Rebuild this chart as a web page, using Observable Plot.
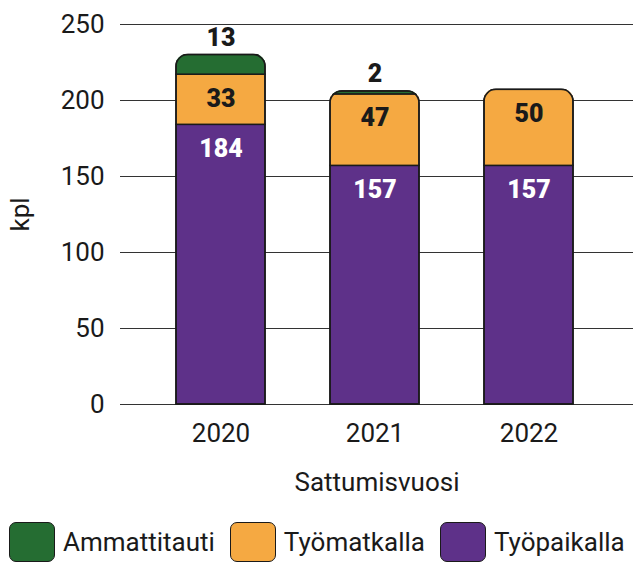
<!DOCTYPE html>
<html><head><meta charset="utf-8">
<script src="https://cdn.jsdelivr.net/npm/d3@7"></script>
<script src="https://cdn.jsdelivr.net/npm/@observablehq/plot@0.6"></script>
<style>
body{margin:0;background:#fff;font-family:Roboto,sans-serif;}
#legend{display:flex;align-items:center;margin-top:22px;margin-left:9px;font-size:26px;color:#1a1a1a;font-family:Roboto,sans-serif}
.sw{width:46px;height:40px;border:1.5px solid #1a1a1a;border-radius:7px;box-sizing:border-box;margin-right:8px}
.item{display:flex;align-items:center;margin-right:15px}
</style></head><body><div id="chart"></div><div id="legend"></div><script>
const years = ["2020","2021","2022"];
const tyopaikalla = [184,157,157];
const tyomatkalla = [33,47,50];
const ammattitauti = [13,2,0];
const seriesNames = ["Ammattitauti","Työmatkalla","Työpaikalla"];
const seriesColors = ["#256d32","#f5a942","#5e3189"];
const stackOrder = ["Työpaikalla","Työmatkalla","Ammattitauti"];
const yTicks = [0,50,100,150,200,250];

const rows = years.flatMap((year,i)=>[
  {year, series:"Työpaikalla", value: tyopaikalla[i]},
  {year, series:"Työmatkalla", value: tyomatkalla[i]},
  {year, series:"Ammattitauti", value: ammattitauti[i]}
]);

function roundTops(index, scales, values, dimensions, context, next) {
  const g = next(index, scales, values, dimensions, context);
  const ns = "http://www.w3.org/2000/svg";
  const bars = new Map();
  g.querySelectorAll("rect").forEach(r => {
    const x = +r.getAttribute("x"), w = +r.getAttribute("width"), y = +r.getAttribute("y"), h = +r.getAttribute("height");
    const k = Math.round(x);
    const b = bars.get(k) || {x, w, top: Infinity, bottom: -Infinity};
    b.top = Math.min(b.top, y); b.bottom = Math.max(b.bottom, y + h);
    bars.set(k, b);
  });
  const R = 12;
  const shape = (x, y0, y1, w, r) => `M${x},${y1}V${y0+r}A${r},${r} 0 0 1 ${x+r},${y0}H${x+w-r}A${r},${r} 0 0 1 ${x+w},${y0+r}V${y1}Z`;
  const wrap = document.createElementNS(ns, "g");
  const defs = document.createElementNS(ns, "defs");
  const cp = document.createElementNS(ns, "clipPath");
  cp.setAttribute("id", "rt-clip");
  const outl = document.createElementNS(ns, "g");
  if (g.getAttribute("transform")) outl.setAttribute("transform", g.getAttribute("transform"));
  for (const b of bars.values()) {
    const p = document.createElementNS(ns, "path");
    p.setAttribute("d", shape(b.x - 1, b.top - 1, b.bottom + 1, b.w + 2, R + 1));
    cp.appendChild(p);
    const o = document.createElementNS(ns, "path");
    o.setAttribute("d", shape(b.x, b.top, b.bottom, b.w, R));
    o.setAttribute("fill", "none");
    o.setAttribute("stroke", "#1a1a1a");
    o.setAttribute("stroke-width", "1.5");
    outl.appendChild(o);
  }
  defs.appendChild(cp);
  wrap.appendChild(defs);
  g.setAttribute("clip-path", "url(#rt-clip)");
  wrap.appendChild(g);
  wrap.appendChild(outl);
  return wrap;
}

const plot = Plot.plot({
  width: 633, height: 500,
  marginTop: 24, marginBottom: 96, marginLeft: 120, marginRight: 0,
  style: {fontFamily: "Roboto, sans-serif", fontSize: "26px", color: "#1a1a1a", background: "white"},
  x: {domain: years, paddingInner: 0.42, paddingOuter: 0.365, align: 0.486, label: null},
  y: {domain: [0, 250], label: null},
  color: {domain: seriesNames, range: seriesColors},
  marks: [
    Plot.gridY(yTicks, {stroke: "#333", strokeOpacity: 1, strokeWidth: 1}),
    Plot.axisY(yTicks, {tickSize: 0, tickPadding: 16, fontSize: 26, label: "kpl", labelAnchor: "center", labelArrow: "none", labelOffset: 110}),
    Plot.axisX({tickSize: 0, tickPadding: 19, fontSize: 26, label: "Sattumisvuosi", labelAnchor: "center", labelArrow: "none", labelOffset: 86}),
    Plot.barY(rows, {x: "year", y: "value", fill: "series", order: stackOrder, stroke: "#1a1a1a", strokeWidth: 1.5, render: roundTops}),
    Plot.text(rows, Plot.stackY2({x: "year", y: "value", z: "series", order: stackOrder, text: d => d.series === "Työpaikalla" ? d.value : null, fill: "white", fontWeight: 900, fontSize: 25, dy: 24})),
    Plot.text(rows, Plot.stackY2({x: "year", y: "value", z: "series", order: stackOrder, text: d => d.series === "Työmatkalla" ? d.value : null, fill: "#1a1a1a", fontWeight: 900, fontSize: 25, dy: 24})),
    Plot.text(rows, Plot.stackY2({x: "year", y: "value", z: "series", order: stackOrder, text: d => d.series === "Ammattitauti" && d.value ? d.value : null, fill: "#1a1a1a", fontWeight: 900, fontSize: 25, dy: -17}))
  ]
});
document.getElementById("chart").appendChild(plot);

const legend = document.getElementById("legend");
seriesNames.forEach((name, i) => {
  const item = document.createElement("div");
  item.className = "item";
  const sw = document.createElement("div");
  sw.className = "sw";
  sw.style.background = seriesColors[i];
  const t = document.createElement("span");
  t.textContent = name;
  item.appendChild(sw); item.appendChild(t);
  legend.appendChild(item);
});
</script></body></html>
